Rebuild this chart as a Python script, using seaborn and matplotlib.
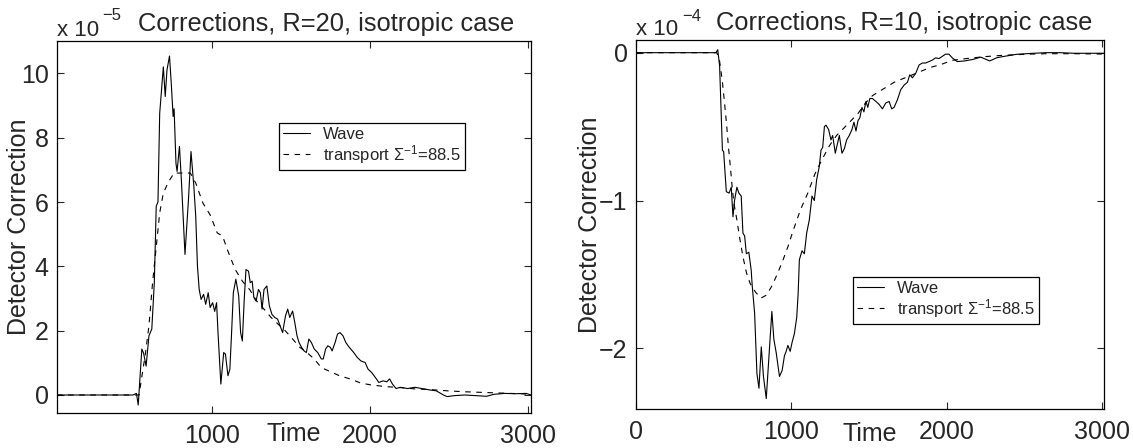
import numpy as np
import pandas as pd
import matplotlib
matplotlib.use("Agg")
import matplotlib.pyplot as plt
import seaborn as sns

# values, in plotted units (x1e-5 left, x1e-4 right)
left_wave_t = [20, 500, 523, 534, 557, 568, 584, 602, 620, 636, 648, 659, 670, 693, 705, 716,
               732, 743, 755, 761, 773, 780, 795, 807, 830, 852, 868, 886, 898, 909, 920,
               932, 948, 961, 977, 989, 1005, 1018, 1030, 1039, 1057, 1075, 1086, 1102,
               1114, 1125, 1136, 1152, 1170, 1182, 1193, 1205, 1216, 1232, 1243, 1255,
               1266, 1280, 1295, 1307, 1318, 1330, 1348, 1364, 1380, 1398, 1416, 1432,
               1448, 1466, 1480, 1493, 1511, 1525, 1539, 1552, 1568, 1584, 1598, 1614,
               1630, 1648, 1670, 1693, 1705, 1720, 1734, 1750, 1761, 1780, 1795, 1811,
               1830, 1848, 1870, 1898, 1920, 1943, 1970, 1989, 2011, 2034, 2057, 2084,
               2107, 2125, 2143, 2166, 2193, 2239, 2284, 2330, 2375, 2420, 2466, 2489,
               2534, 2602, 2670, 2739, 2784, 2852, 2920, 2989, 3020]
left_wave_v = [0, 0, 0.05, -0.31, 1.43, 1.3, 0.9, 1.84, 2.05, 3.5, 5.87, 6.0, 8.76, 10.2,
               9.28, 10.1, 10.54, 9.7, 8.66, 8.9, 7.2, 6.95, 7.73, 6.7, 4.37, 6.07, 7.57,
               6.49, 5.56, 4.0, 3.28, 2.97, 3.13, 2.82, 3.18, 2.72, 2.87, 2.6, 2.87, 1.94,
               0.34, 1.32, 1.27, 0.6, 0.8, 1.94, 3.18, 3.6, 3.08, 1.94, 1.68, 2.97, 3.9,
               3.85, 3.49, 3.54, 3.03, 2.92, 3.28, 3.18, 2.67, 3.28, 3.39, 2.77, 2.51,
               2.41, 2.36, 2.15, 1.94, 2.46, 2.67, 2.41, 2.61, 2.25, 1.84, 1.63, 1.48,
               1.37, 1.32, 1.74, 1.63, 1.43, 1.32, 1.12, 1.12, 1.43, 1.53, 1.48, 1.37,
               1.63, 1.89, 1.94, 1.84, 1.63, 1.48, 1.32, 1.17, 1.06, 1.01, 0.8, 0.7,
               0.55, 0.39, 0.44, 0.41, 0.5, 0.34, 0.2, 0.24, 0.2, 0.24, 0.2, 0.16, 0.13,
               0, -0.05, -0.02, 0, -0.02, -0.04, 0.02, 0.05, 0.04, 0.05, 0]

left_transport_t = [20, 540, 545, 580, 602, 625, 648, 670, 693, 727, 761, 795, 830, 864, 898,
                    943, 989, 1034, 1068, 1102, 1148, 1193, 1239, 1284, 1330, 1375, 1420,
                    1466, 1511, 1557, 1602, 1648, 1693, 1739, 1807, 1875, 1943, 2011, 2102,
                    2193, 2284, 2375, 2489, 2602, 2716, 2830, 2943, 3020]
left_transport_v = [0, 0, 0.19, 1.3, 2.15, 3.5, 4.6, 5.66, 6.28, 6.64, 6.9, 6.9, 6.9, 6.9,
                    6.59, 5.97, 5.6, 5.04, 4.94, 4.47, 3.9, 3.54, 3.28, 2.92, 2.67, 2.41,
                    2.2, 1.99, 1.74, 1.48, 1.32, 1.12, 0.85, 0.75, 0.6, 0.5, 0.37, 0.31,
                    0.26, 0.23, 0.19, 0.17, 0.13, 0.1, 0.08, 0.06, 0.04, 0.02]

right_wave_t = [0, 514, 526, 538, 556, 564, 581, 599, 613, 624, 634, 649, 662, 677, 688, 699,
                710, 726, 741, 748, 763, 778, 791, 806, 820, 838, 855, 874, 887, 902, 923,
                940, 955, 966, 977, 992, 1004, 1019, 1034, 1043, 1051, 1068, 1083, 1098,
                1115, 1132, 1147, 1162, 1179, 1190, 1201, 1212, 1222, 1239, 1254, 1265,
                1282, 1297, 1308, 1325, 1340, 1355, 1372, 1389, 1402, 1415, 1428, 1440,
                1453, 1466, 1479, 1491, 1504, 1521, 1543, 1564, 1585, 1607, 1628, 1645,
                1660, 1681, 1703, 1724, 1746, 1761, 1778, 1799, 1821, 1842, 1863, 1885,
                1906, 1927, 1949, 1970, 1991, 2013, 2034, 2066, 2113, 2170, 2217, 2275,
                2321, 2379, 2448, 2541, 2634, 2726, 2819, 2912, 3010]
right_wave_v = [0, 0, 0.02, -0.09, -0.66, -0.67, -0.94, -0.95, -0.91, -1.11, -1.0, -0.91,
                -0.95, -0.97, -1.22, -1.24, -1.36, -1.35, -1.47, -1.58, -1.76, -2.17,
                -2.27, -1.99, -2.19, -2.34, -2.06, -1.75, -1.94, -2.03, -2.19, -2.15,
                -2.05, -2.02, -1.98, -2.02, -1.96, -1.9, -1.79, -1.63, -1.4, -1.34, -1.36,
                -1.22, -1.13, -0.97, -1.0, -0.86, -0.77, -0.66, -0.64, -0.5, -0.49, -0.52,
                -0.59, -0.56, -0.68, -0.61, -0.56, -0.68, -0.65, -0.59, -0.56, -0.52,
                -0.47, -0.53, -0.46, -0.44, -0.37, -0.4, -0.33, -0.37, -0.31, -0.31,
                -0.33, -0.35, -0.38, -0.34, -0.33, -0.38, -0.37, -0.32, -0.25, -0.22,
                -0.2, -0.15, -0.17, -0.14, -0.083, -0.07, -0.07, -0.06, -0.05, -0.035,
                -0.04, -0.025, -0.01, -0.01, -0.035, -0.06, -0.056, -0.045, -0.03,
                -0.056, -0.034, -0.023, -0.011, -0.005, 0, 0, -0.004, -0.004, -0.004]

right_transport_t = [0, 520, 537, 554, 568, 584, 595, 607, 618, 630, 649, 665, 688, 711, 734,
                     769, 804, 839, 873, 908, 943, 978, 1012, 1059, 1105, 1151, 1198, 1244,
                     1290, 1337, 1383, 1429, 1476, 1522, 1568, 1615, 1661, 1707, 1754, 1800,
                     1846, 1893, 1962, 2032, 2124, 2240, 2356, 2495, 2634, 2819, 3010]
right_transport_v = [0, 0, -0.05, -0.18, -0.32, -0.5, -0.64, -0.77, -0.9, -1.02, -1.13,
                     -1.24, -1.38, -1.49, -1.56, -1.62, -1.66, -1.64, -1.58, -1.5, -1.41,
                     -1.31, -1.2, -1.06, -0.95, -0.82, -0.72, -0.63, -0.56, -0.51, -0.46,
                     -0.41, -0.34, -0.29, -0.26, -0.23, -0.2, -0.18, -0.16, -0.14, -0.12,
                     -0.1, -0.08, -0.052, -0.04, -0.027, -0.018, -0.011, -0.007, -0.007,
                     -0.009]

panel_titles = ["Corrections, R=20, isotropic case", "Corrections, R=10, isotropic case"]
exponents = ["\u22125", "\u22124"]
legend_labels = ["Wave", "transport \u03a3$^{-1}$=88.5"]

sns.set_style("ticks")
plt.rcParams["font.family"] = ["Liberation Sans", "DejaVu Sans"]
plt.rcParams["mathtext.fontset"] = "custom"
plt.rcParams["mathtext.rm"] = "Liberation Sans"
plt.rcParams["mathtext.it"] = "Liberation Sans:italic"
plt.rcParams["mathtext.bf"] = "Liberation Sans:bold"
plt.rcParams["axes.unicode_minus"] = True

fig = plt.figure(figsize=(11.33, 4.48), dpi=100)
ax_l = fig.add_axes([0.0503, 0.0781, 0.4184, 0.830])
ax_r = fig.add_axes([0.5613, 0.0871, 0.4131, 0.8237])

panels = [
    (ax_l, left_wave_t, left_wave_v, left_transport_t, left_transport_v,
     (20, 3020), (-0.56, 11.0), [1000, 2000, 3000], [0, 2, 4, 6, 8, 10],
     (0.468, 0.780), -7, (0.095, 1.056), -19),
    (ax_r, right_wave_t, right_wave_v, right_transport_t, right_transport_v,
     (0, 3010), (-2.41, 0.086), [0, 1000, 2000, 3000], [-2, -1, 0],
     (0.464, 0.358), -2, (0.098, 1.051), -16),
]

for i, (ax, wt, wv, tt, tv, xl, yl, xt, yt, leg_pos, ypad, sup_pos, xpad) in enumerate(panels):
    wave = pd.DataFrame({"Time": wt, "value": wv})
    trans = pd.DataFrame({"Time": tt, "value": tv})
    sns.lineplot(data=wave, x="Time", y="value", ax=ax, color="black",
                 linewidth=0.8, label=legend_labels[0])
    sns.lineplot(data=trans, x="Time", y="value", ax=ax, color="black",
                 linewidth=0.8, linestyle=(0, (5, 5)), label=legend_labels[1])

    ax.set_xlim(*xl)
    ax.set_ylim(*yl)
    ax.set_xticks(xt)
    ax.set_yticks(yt)
    ax.tick_params(direction="in", top=True, right=True, length=5, width=0.8,
                   labelsize=18, pad=6)
    ax.tick_params(axis="x", pad=8)
    for sp in ax.spines.values():
        sp.set_linewidth(0.9)
        sp.set_color("black")

    ax.set_xlabel("Time", fontsize=18, labelpad=xpad)
    ax.set_ylabel("Detector Correction", fontsize=18, labelpad=ypad)

    # axis multiplier above the top-left corner, then the title
    ax.text(0.0, 1.013, "x 10", transform=ax.transAxes, fontsize=16,
            va="baseline", ha="left")
    ax.text(sup_pos[0], sup_pos[1], exponents[i], transform=ax.transAxes,
            fontsize=12, va="baseline", ha="left")
    ax.text(0.171, 1.027, panel_titles[i], transform=ax.transAxes, fontsize=18.4,
            va="baseline", ha="left")

    leg = ax.legend(loc="upper left", bbox_to_anchor=leg_pos, fontsize=12,
                    frameon=True, fancybox=False, framealpha=1, edgecolor="black",
                    borderpad=0.25, labelspacing=0.05, handlelength=1.6,
                    handletextpad=0.8, borderaxespad=0)
    leg.get_frame().set_linewidth(0.9)

fig.savefig("out.png", dpi=100)
